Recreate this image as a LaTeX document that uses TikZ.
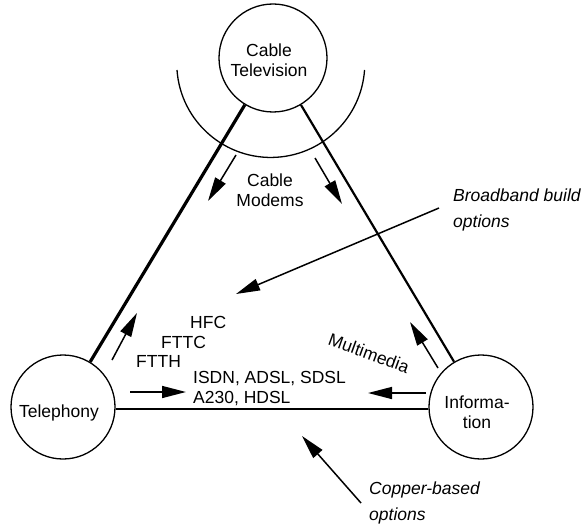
\documentclass[tikz,border=0pt]{standalone}
\usepackage{fontspec}
\setmainfont{Liberation Sans}
\usetikzlibrary{arrows.meta}
\begin{document}
\begin{tikzpicture}[x=1pt,y=-1pt,
  every node/.style={font=\fontsize{17.5}{20}\selectfont, inner sep=0pt},
  circ/.style={draw, circle, line width=1.3pt},
  lbl/.style={align=center},
  note/.style={font=\fontsize{17.5}{26}\selectfont\itshape, align=left, anchor=west},
  arr/.style={line width=1.5pt, -{Triangle[length=24pt,width=12pt]}},
  edgeA/.style={line width=3.2pt},
  edgeB/.style={line width=2.2pt},
  edgeC/.style={line width=2.6pt}]
\useasboundingbox (0,0) rectangle (585,524);
% circles
\node[circ, minimum size=108pt] (ctv) at (273,58) {};
\node[circ, minimum size=104pt] (tel) at (63,407) {};
\node[circ, minimum size=104pt] (inf) at (481,407) {};
\node[lbl] (ctvt) at (269,60.5) {Cable\\Television};
\node (telt) at (59,413) {Telephony};
\node[lbl] (inft) at (477,412) {Informa-\\tion};
% triangle edges
\draw[edgeA] (tel) -- (ctv);
\draw[edgeB] (inf) -- (ctv);
\draw[edgeC] ([yshift=-2pt]tel.east) -- ([yshift=-2pt]inf.west);
% arc
\coordinate (arcL) at (177,70);
\draw[line width=1.3pt] (arcL) arc[start angle=184, end angle=356, radius=94pt];
% cable modems
\coordinate (cm1s) at (236,155);
\coordinate (cm1e) at (208,201);
\coordinate (cm2s) at (315,158);
\coordinate (cm2e) at (342,204);
\draw[arr] (cm1s) -- (cm1e);
\draw[arr] (cm2s) -- (cm2e);
\node[lbl] (cmt) at (270,190) {Cable\\Modems};
% left side
\coordinate (lus) at (112,360);
\coordinate (lue) at (137,313);
\draw[arr] (lus) -- (lue);
\node[anchor=west] (hfc) at (190,322) {HFC};
\node[anchor=west] (fttc) at (161,342) {FTTC};
\node[anchor=west] (ftth) at (136,361) {FTTH};
\coordinate (lhs) at (130,392);
\coordinate (lhe) at (186,392);
\draw[arr] (lhs) -- (lhe);
\node[anchor=west, align=left] (dsl) at (193,389) {ISDN, ADSL, SDSL\\A230, HDSL};
% right side
\coordinate (rus) at (438,368);
\coordinate (rue) at (410,322);
\draw[arr] (rus) -- (rue);
\coordinate (rhs) at (426,393);
\coordinate (rhe) at (368,393);
\draw[arr] (rhs) -- (rhe);
\node[rotate=-20] (mm) at (369,353) {Multimedia};
% notes
\coordinate (bbs) at (439,208);
\coordinate (bbe) at (236,294);
\draw[arr] (bbs) -- (bbe);
\node[note] (bb) at (453,210) {Broadband build\\options};
\coordinate (cbs) at (361,503);
\coordinate (cbe) at (302,436);
\draw[arr] (cbs) -- (cbe);
\node[note] (cb) at (369,503) {Copper-based\\options};
\end{tikzpicture}
\end{document}
